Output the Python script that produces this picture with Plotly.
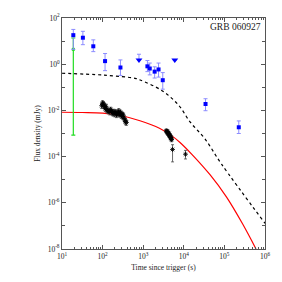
import plotly.graph_objects as go

# ---- data ----
# optical/UV detections (blue squares)
blue_t = [19, 32.7, 59, 115, 275, 1270, 1450, 1914, 2390, 3030, 34300, 226000]
blue_y = [18.1, 14.0, 5.96, 1.36, 0.72, 0.81, 0.65, 0.477, 0.593, 0.203, 0.0189, 0.00186]
blue_hi = [32, 26.5, 11.3, 2.9, 1.53, 1.44, 1.12, 0.77, 1.12, 0.433, 0.032, 0.0035]
blue_lo = [4.4, 7.0, 3.5, 0.525, 0.326, 0.477, 0.345, 0.252, 0.277, 0.083, 0.0097, 0.001]

# upper limits (blue downward triangles)
ul_t = [787, 6000]
ul_y = [1.53, 1.53]
ul_hi = [2.7, 1.53]

# green point
green_t = [19]
green_y = [4.4]
green_hi = [13.6]
green_lo = [0.00085]

# X-ray data (black)
xr_t = [95, 100, 104, 108, 112, 117, 121, 126, 132, 140, 150, 158, 166, 174, 182, 190, 200, 210,
        220, 230, 240, 250, 262, 275, 288, 300, 312, 325, 340, 355, 370, 385,
        3700, 3800, 3900, 4000, 4100, 4200, 4300, 4400, 4500, 4600, 4700, 4800, 4900, 5000,
        5280, 11000]
xr_y = [0.016, 0.021, 0.019, 0.017, 0.014, 0.012, 0.015, 0.011, 0.010, 0.0095, 0.0085, 0.011,
        0.009, 0.0080, 0.0075, 0.0090, 0.0070, 0.0085, 0.0065, 0.0078, 0.0072, 0.0095, 0.0068,
        0.0082, 0.0060, 0.0070, 0.0055, 0.0062, 0.0045, 0.0038, 0.0032, 0.0030,
        0.0013, 0.0012, 0.00125, 0.0011, 0.00105, 0.00095, 0.0010, 0.00085, 0.0008, 0.00078,
        0.0007, 0.00068, 0.0006, 0.00055,
        0.000204, 0.000127]
xr_err_rel = [0.25] * 32 + [0.2] * 14
xr_hi_abs = [0.000327 - 0.000204, 0.000186 - 0.000127]
xr_lo_abs = [0.000204 - 0.000059, 0.000127 - 0.000079]

# model curves (samples)
red_t = [10, 31.6, 100, 275, 832, 2510, 4790, 7940, 15800, 44700, 112000, 282000, 600000]
red_y = [0.0083, 0.0081, 0.0076, 0.0060, 0.00355, 0.0017, 0.00085, 0.00042, 0.000125,
         1.6e-5, 1.8e-6, 1.2e-7, 1.0e-8]
dash_t = [10, 110, 631, 800, 2920, 7360, 14600, 32400, 85100, 1000000]
dash_y = [0.405, 0.336, 0.245, 0.215, 0.0714, 0.0172, 0.003, 0.00062, 4.7e-5, 1.3e-7]

x_tickvals = [1e1, 1e2, 1e3, 1e4, 1e5, 1e6]
x_ticktext = ["10<sup>1</sup>", "10<sup>2</sup>", "10<sup>3</sup>", "10<sup>4</sup>", "10<sup>5</sup>", "10<sup>6</sup>"]
y_tickvals = [1e-8, 1e-6, 1e-4, 1e-2, 1e0, 1e2]
y_ticktext = ["10<sup>-8</sup>", "10<sup>-6</sup>", "10<sup>-4</sup>", "10<sup>-2</sup>", "10<sup>0</sup>", "10<sup>2</sup>"]

FONT = "Liberation Serif"

# ---- figure ----
fig = go.Figure()

fig.add_trace(go.Scatter(x=dash_t, y=dash_y, mode="lines",
                         line=dict(color="black", width=1.2, dash="3px,3px", shape="spline"),
                         showlegend=False, hoverinfo="skip"))
fig.add_trace(go.Scatter(x=red_t, y=red_y, mode="lines", line=dict(color="red", width=1.2, shape="spline"),
                         showlegend=False, hoverinfo="skip"))

fig.add_trace(go.Scatter(
    x=green_t, y=green_y, mode="markers",
    marker=dict(symbol="square", size=3, color="#22dd22"),
    error_y=dict(type="data", symmetric=False,
                 array=[h - v for h, v in zip(green_hi, green_y)],
                 arrayminus=[v - l for l, v in zip(green_lo, green_y)],
                 color="#22dd22", thickness=1.2, width=2),
    showlegend=False))

fig.add_trace(go.Scatter(
    x=blue_t, y=blue_y, mode="markers",
    marker=dict(symbol="square", size=4, color="#0000ff"),
    error_y=dict(type="data", symmetric=False,
                 array=[h - v for h, v in zip(blue_hi, blue_y)],
                 arrayminus=[v - l for l, v in zip(blue_lo, blue_y)],
                 color="#8c8cff", thickness=1, width=2),
    showlegend=False))

fig.add_trace(go.Scatter(
    x=ul_t, y=ul_y, mode="markers",
    marker=dict(symbol="triangle-down", size=6, color="#0000ff"),
    error_y=dict(type="data", symmetric=False,
                 array=[h - v for h, v in zip(ul_hi, ul_y)],
                 arrayminus=[0, 0], color="#8c8cff", thickness=1, width=2),
    showlegend=False))

n_rel = len(xr_err_rel)
err_up = [xr_y[i] * xr_err_rel[i] for i in range(n_rel)] + xr_hi_abs
err_dn = [xr_y[i] * xr_err_rel[i] for i in range(n_rel)] + xr_lo_abs
fig.add_trace(go.Scatter(
    x=xr_t, y=xr_y, mode="markers",
    marker=dict(symbol="asterisk-open", size=4, color="black", line=dict(color="#111111", width=0.9)),
    error_y=dict(type="data", symmetric=False, array=err_up, arrayminus=err_dn,
                 color="#444444", thickness=0.8, width=1.5),
    showlegend=False))

axis_common = dict(
    type="log", showgrid=False, zeroline=False, showline=True, linecolor="#555555", linewidth=1,
    mirror="allticks", ticks="inside", tickcolor="#555555", ticklen=4,
    tickfont=dict(family=FONT, size=7.5, color="#222222"),
)

x_minor = [m * 10 ** e for e in range(1, 6) for m in range(2, 10)]
y_minor = [10.0 ** e for e in range(-7, 2, 2)]

fig.update_xaxes(range=[1, 6], tickvals=x_tickvals, ticktext=x_ticktext,
                 minor=dict(tickvals=x_minor, ticks="inside", ticklen=2, tickcolor="#555555"),
                 title=dict(text="Time since trigger (s)", font=dict(family=FONT, size=7.5, color="#222222"),
                            standoff=4),
                 **axis_common)
fig.update_yaxes(range=[-8, 2], tickvals=y_tickvals, ticktext=y_ticktext,
                 minor=dict(tickvals=y_minor, ticks="inside", ticklen=3, tickcolor="#555555"),
                 title=dict(text="Flux density (mJy)", font=dict(family=FONT, size=7.5, color="#222222"),
                            standoff=6),
                 **axis_common)

fig.add_annotation(text="GRB 060927", xref="paper", yref="paper", x=0.99, y=0.99,
                   xanchor="right", yanchor="top", showarrow=False,
                   font=dict(family=FONT, size=9.5, color="#222222"))

fig.update_layout(width=282, height=282, margin=dict(l=62, r=13, t=12, b=28),
                  paper_bgcolor="white", plot_bgcolor="white")

fig.write_html("out.html", config={"displayModeBar": False},
               post_script="document.body.style.margin='0';document.body.style.overflow='hidden';")
